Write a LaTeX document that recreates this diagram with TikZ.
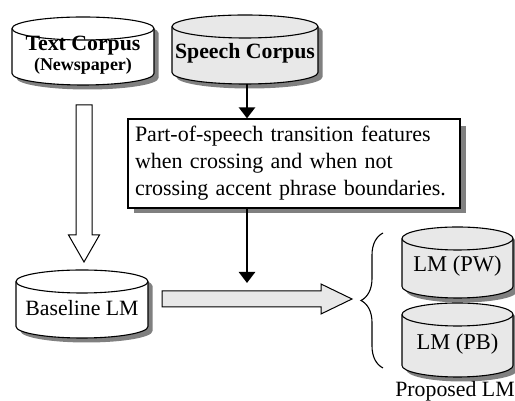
\documentclass[tikz,border=0pt]{standalone}
\usepackage{fontspec}
\setmainfont{Liberation Serif}
\usetikzlibrary{arrows.meta,calc,decorations.pathreplacing}

\definecolor{lightfill}{RGB}{232,232,232}
\definecolor{shadecol}{RGB}{128,128,128}

% database cylinder: #1 name, #2 left x, #3 right x, #4 top y, #5 bottom y, #6 fill
\newcommand\dbcyl[6]{%
  \pgfmathsetmacro\cylrx{(#3-#2)/2}%
  \pgfmathsetmacro\cylry{11.5}%
  \pgfmathsetmacro\cyt{#4-\cylry}%
  \pgfmathsetmacro\cyb{#5+\cylry}%
  \begin{scope}[shift={(4.5,-4.5)}]
    \fill[shadecol] (#2,\cyt) -- (#2,\cyb)
      arc[start angle=180,end angle=360,x radius=\cylrx,y radius=\cylry]
      -- (#3,\cyt)
      arc[start angle=0,end angle=180,x radius=\cylrx,y radius=\cylry] -- cycle;
  \end{scope}
  \filldraw[cylline,fill=#6] (#2,\cyt) -- (#2,\cyb)
      arc[start angle=180,end angle=360,x radius=\cylrx,y radius=\cylry]
      -- (#3,\cyt)
      arc[start angle=0,end angle=180,x radius=\cylrx,y radius=\cylry] -- cycle;
  \draw[cylline] (#2,\cyt)
      arc[start angle=180,end angle=360,x radius=\cylrx,y radius=\cylry];
  \node[inner sep=0pt,minimum width={#3-#2},minimum height={#4-#5}]
      (#1) at ({(#2+#3)/2},{(#4+#5)/2}) {};
}

\tikzset{
  cylline/.style={draw=black,line width=1.1pt},
  cyltext/.style={font=\fontsize{22.5}{24}\selectfont,inner sep=0pt},
  titletext/.style={font=\bfseries\fontsize{21.8}{21}\selectfont,inner sep=0pt,align=center},
  featbox/.style={draw=black,line width=2pt,fill=white,inner sep=7pt,
    minimum width=332pt,minimum height=87pt,text width=318pt,align=left,
    font=\fontsize{22}{27}\selectfont},
  thinarrow/.style={line width=2.6pt,-{Triangle[width=16pt,length=11pt]}},
  fatarrow/.style={draw=black,line width=1pt,line join=miter},
  bracestyle/.style={line width=1.1pt,decorate,decoration={brace,amplitude=22pt}}
}

\begin{document}
\begin{tikzpicture}[x=1pt,y=1pt]
  \useasboundingbox (0,0) rectangle (515,401);

  % corpora
  \dbcyl{text}{12}{154}{384}{316}{white}
  \node[titletext] (text-txt) at ([yshift=-4]text.center)
    {Text Corpus\\[-1pt]{\fontsize{18}{18}\selectfont(Newspaper)}};
  \dbcyl{speech}{172}{318}{386}{317}{lightfill}
  \node[titletext] (speech-txt) at ([yshift=-4]speech.center) {Speech Corpus};

  % language models
  \dbcyl{base}{16}{148}{131}{63}{white}
  \node[cyltext,font=\fontsize{21.8}{24}\selectfont] (base-txt) at ([yshift=-4]base.center) {Baseline LM};
  \dbcyl{pw}{402}{513}{174}{103}{lightfill}
  \node[cyltext] (pw-txt) at ([yshift=-4]pw.center) {LM (PW)};
  \dbcyl{pb}{402}{513}{98}{24}{lightfill}
  \node[cyltext] (pb-txt) at ([yshift=-4]pb.center) {LM (PB)};
  \node[cyltext,font=\fontsize{21.8}{24}\selectfont,anchor=base] (proposed) at (455,4) {Proposed LM};

  % feature box with its drop shadow
  \fill[shadecol] (134,188) rectangle (466,275);
  \node[featbox] (feat) at (294,237.5)
    {Part-of-speech transition features\\
     when crossing and when not\\
     crossing accent phrase boundaries.};

  % thin arrows through the feature box
  \coordinate (sp) at (247,317);
  \coordinate (join) at (247,118);
  \draw[thinarrow] (sp) -- (sp |- feat.north);
  \draw[thinarrow] (sp |- feat.south) -- (join);

  % hollow arrow from the text corpus to the baseline model
  \coordinate (ha) at (84,296);
  \coordinate (hb) at (84,139);
  \filldraw[fatarrow,fill=white]
    ($(ha)+(-8,0)$) -- ($(hb)+(-8,27)$) -- ($(hb)+(-15.5,27)$) -- (hb)
    -- ($(hb)+(15.5,27)$) -- ($(hb)+(8,27)$) -- ($(ha)+(8,0)$) -- cycle;

  % wide arrow from the baseline model to the proposed models
  \coordinate (wa) at (162,102);
  \coordinate (wb) at (352,102);
  \filldraw[fatarrow,fill=lightfill]
    ($(wa)+(0,8)$) -- ($(wb)+(-31,8)$) -- ($(wb)+(-31,15)$) -- (wb)
    -- ($(wb)+(-31,-15)$) -- ($(wb)+(-31,-8)$) -- ($(wa)+(0,-8)$) -- cycle;

  % brace grouping the proposed models
  \coordinate (brbot) at (383,33);
  \coordinate (brtop) at (383,168);
  \draw[bracestyle] (brbot) -- (brtop);
\end{tikzpicture}
\end{document}
